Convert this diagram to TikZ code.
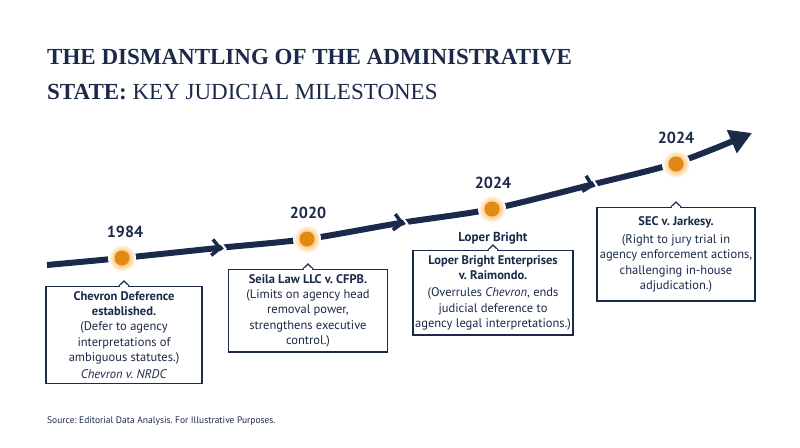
\documentclass[tikz,border=0pt]{standalone}
\usepackage{fontspec}
\setmainfont{PT Sans}
\newfontfamily\titlefont{Liberation Serif}
\usetikzlibrary{arrows.meta}
\definecolor{navy}{HTML}{1B2A4A}
\definecolor{dotor}{HTML}{E08A14}
\frenchspacing
\begin{document}
\begin{tikzpicture}[x=1pt,y=-1pt,
  box/.style={draw=navy,line width=1.3pt,fill=white,align=center,text=navy,font=\fontsize{12.5}{15.2}\selectfont,inner ysep=5pt,inner xsep=2pt},
  yr/.style={text=navy,font=\fontsize{16}{17}\selectfont\bfseries},
  glow/.style={circle,minimum size=28pt,inner sep=0pt,inner color=orange!85!yellow,outer color=white},
  dot/.style={circle,fill=dotor,minimum size=15pt,inner sep=0pt},
  chev/.style={draw=navy,line width=3.5pt,line cap=butt,line join=miter}]
\useasboundingbox (0,0) rectangle (800,447);
\fill[white] (0,0) rectangle (800,447);
\node[anchor=base west,text=navy,inner sep=0pt,font=\titlefont\fontsize{23}{28}\selectfont] (t1) at (47,64) {\bfseries THE DISMANTLING OF THE ADMINISTRATIVE};
\node[anchor=base west,text=navy,inner sep=0pt,font=\titlefont\fontsize{23}{28}\selectfont] (t2) at (47,99) {\bfseries STATE: \mdseries KEY JUDICIAL MILESTONES};
% timeline
\draw[navy,line width=6pt,-{Triangle[length=22pt,width=24pt]}] plot[smooth,tension=0.5] coordinates {(47,265) (122,258) (218,248) (307,239) (400,223) (492,209) (590,185) (676,163) (752,133)};
\foreach \x/\y/\a in {218/248/-6, 400/223/-9, 590/185/-14}{
  \begin{scope}[shift={(\x,\y)},rotate=\a]
   \fill[white] (-3,-9) -- (6,0) -- (-3,9) -- (0,9)--(9,0)--(0,-9)--cycle;
   \draw[chev] (-6,-8) -- (2,0) -- (-6,8);
  \end{scope}}
\foreach \n/\x/\y in {d1/122/258, d2/307/239, d3/492/209, d4/676/164}{
  \node[glow] at (\x,\y) {};
  \node[dot] (\n) at (\x,\y) {};}
\node[yr] (y1) at (125,232) {1984};
\node[yr] (y2) at (308,213) {2020};
\node[yr] (y3) at (493,183) {2024};
\node[yr] (y4) at (676,138) {2024};
% boxes
\node[box,minimum width=156pt,anchor=north] (b1) at (124,286) {\textbf{Chevron Deference}\\\textbf{established.}\\(Defer to agency\\interpretations of\\ambiguous statutes.)\\[2pt]\textit{Chevron v. NRDC}};
\node[box,minimum width=159pt,anchor=north] (b2) at (308,269) {\textbf{Seila Law LLC v. CFPB.}\\(Limits on agency head\\removal power,\\strengthens executive\\control.)};
\node[text=navy,font=\fontsize{13}{14}\selectfont\bfseries] (lb) at (493,238) {Loper Bright};
\node[box,minimum width=159pt,anchor=north] (b3) at (493,250) {\textbf{Loper Bright Enterprises}\\\textbf{v. Raimondo.}\\[2pt](Overrules \textit{Chevron}, ends\\judicial deference to\\agency legal interpretations.)};
\node[box,minimum width=158pt,anchor=north,inner ysep=9pt] (b4) at (676,207) {\textbf{SEC v. Jarkesy.}\\[3pt](Right to jury trial in\\agency enforcement actions,\\challenging in-house\\adjudication.)};
\foreach \b in {b1,b2,b3,b4}{
  \draw[navy,line width=1.3pt,fill=white] ([xshift=-5pt]\b.north) -- ([yshift=5pt]\b.north) -- ([xshift=5pt]\b.north);
  \fill[white] ([xshift=-4pt,yshift=-0.6pt]\b.north) rectangle ([xshift=4pt,yshift=0.8pt]\b.north);}
\node[anchor=base west,text=navy,inner sep=0pt,font=\fontsize{9.5}{10}\selectfont] (src) at (47,423) {Source: Editorial Data Analysis. For Illustrative Purposes.};
\end{tikzpicture}
\end{document}
